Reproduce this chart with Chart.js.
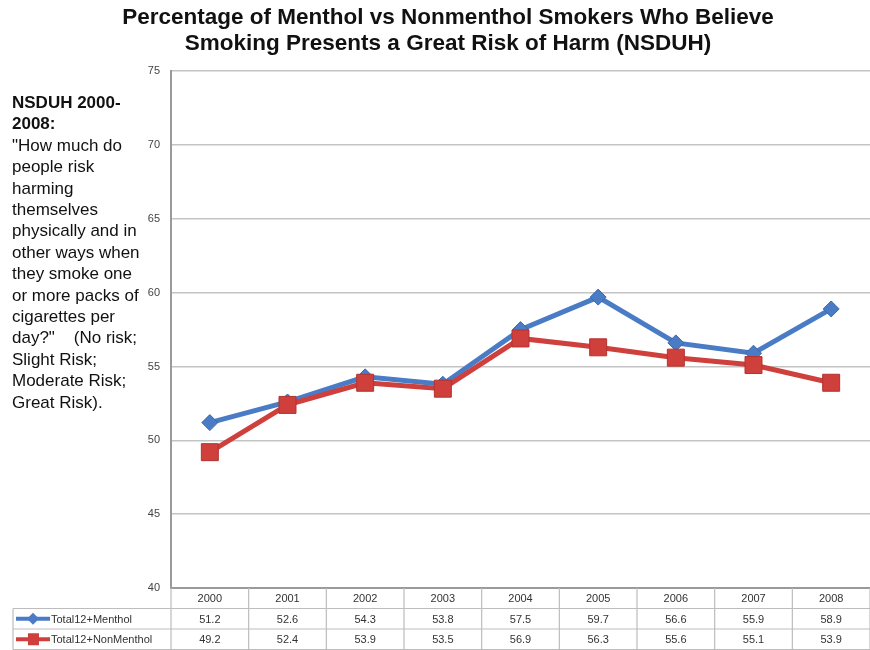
<!DOCTYPE html>
<html>
<head>
<meta charset="utf-8">
<script src="https://cdn.jsdelivr.net/npm/chart.js@4/dist/chart.umd.min.js"></script>
<style>
  html, body { margin: 0; padding: 0; background: #fff; }
  #wrap { position: relative; width: 870px; height: 650px; }
  #note {
    position: absolute; left: 12px; top: 92px;
    font: 17px "Liberation Sans", Arial, sans-serif;
    line-height: 21.4px; color: #111; white-space: nowrap;
  }
  #note b { font-weight: bold; }
</style>
</head>
<body>
<div id="wrap">
  <canvas id="chart" width="870" height="650"></canvas>
  <div id="note"><b>NSDUH 2000-<br>2008:</b><br>"How much do<br>people risk<br>harming<br>themselves<br>physically and in<br>other ways when<br>they smoke one<br>or more packs of<br>cigarettes per<br>day?"&nbsp;&nbsp;&nbsp; (No risk;<br>Slight Risk;<br>Moderate Risk;<br>Great Risk).</div>
</div>
<script>
// Survey years and the share (%) who see a great risk of harm
const years = ['2000', '2001', '2002', '2003', '2004', '2005', '2006', '2007', '2008'];
const menthol = [51.2, 52.6, 54.3, 53.8, 57.5, 59.7, 56.6, 55.9, 58.9];
const nonMenthol = [49.2, 52.4, 53.9, 53.5, 56.9, 56.3, 55.6, 55.1, 53.9];
const seriesNames = ['Total12+Menthol', 'Total12+NonMenthol'];
const yTicks = [40, 45, 50, 55, 60, 65, 70, 75];

const BLUE = '#4a7cc6';
const RED = '#cf3f3b';
const FONT = '"Liberation Sans", Arial, sans-serif';

// Data table under the plot: year header row plus one row per series
const dataTable = {
  id: 'dataTable',
  afterDraw(chart) {
    const { ctx, chartArea, scales } = chart;
    const x = scales.x;
    const top = chartArea.bottom;
    const rowH = 20.5;
    const left = chartArea.left;
    const right = chart.width;
    const catW = (chartArea.right - chartArea.left) / years.length;
    const legendLeft = 13;
    ctx.save();
    ctx.strokeStyle = '#bdbdbd';
    ctx.lineWidth = 1.2;
    // horizontal rules
    ctx.beginPath();
    ctx.moveTo(left, top + rowH); ctx.lineTo(right, top + rowH);
    ctx.moveTo(legendLeft, top + rowH); ctx.lineTo(left, top + rowH);
    ctx.moveTo(legendLeft, top + 2 * rowH); ctx.lineTo(right, top + 2 * rowH);
    ctx.moveTo(legendLeft, top + 3 * rowH); ctx.lineTo(right, top + 3 * rowH);
    // vertical rules
    for (let i = 0; i <= years.length; i++) {
      const xx = left + i * catW;
      ctx.moveTo(xx, top); ctx.lineTo(xx, top + 3 * rowH);
    }
    ctx.moveTo(legendLeft, top + rowH); ctx.lineTo(legendLeft, top + 3 * rowH);
    ctx.stroke();

    ctx.fillStyle = '#333';
    ctx.font = '11px ' + FONT;
    ctx.textAlign = 'center';
    ctx.textBaseline = 'middle';
    const rows = [menthol, nonMenthol];
    years.forEach((yr, i) => {
      const cx = x.getPixelForValue(i);
      ctx.fillText(yr, cx, top + rowH / 2 + 1);
      rows.forEach((vals, r) => {
        ctx.fillText(vals[i].toFixed(1), cx, top + rowH * (r + 1.5) + 1);
      });
    });

    // legend keys
    const colors = [BLUE, RED];
    seriesNames.forEach((name, r) => {
      const cy = top + rowH * (r + 1.5);
      ctx.strokeStyle = colors[r];
      ctx.lineWidth = 4;
      ctx.beginPath();
      ctx.moveTo(16, cy); ctx.lineTo(50, cy);
      ctx.stroke();
      ctx.fillStyle = colors[r];
      ctx.beginPath();
      if (r === 0) {
        ctx.moveTo(33, cy - 6); ctx.lineTo(39, cy); ctx.lineTo(33, cy + 6); ctx.lineTo(27, cy);
      } else {
        ctx.rect(28, cy - 6, 11, 12);
      }
      ctx.fill();
      ctx.fillStyle = '#333';
      ctx.textAlign = 'left';
      ctx.fillText(name, 51, cy + 1);
    });
    ctx.restore();
  }
};

new Chart(document.getElementById('chart'), {
  type: 'line',
  data: {
    labels: years,
    datasets: [
      {
        label: seriesNames[0],
        data: menthol,
        borderColor: BLUE,
        backgroundColor: BLUE,
        borderWidth: 5,
        pointStyle: 'rectRot',
        pointRadius: 8,
        pointBorderColor: '#3a68ad',
        pointBorderWidth: 1,
        tension: 0,
        order: 2
      },
      {
        label: seriesNames[1],
        data: nonMenthol,
        borderColor: RED,
        backgroundColor: RED,
        borderWidth: 5,
        pointStyle: 'rect',
        pointRadius: 12,
        pointBorderColor: '#b33330',
        pointBorderWidth: 1,
        tension: 0,
        order: 1
      }
    ]
  },
  options: {
    responsive: false,
    animation: false,
    layout: { autoPadding: false, padding: { left: 26, right: 0, top: 0, bottom: 62 } },
    plugins: {
      legend: { display: false },
      tooltip: { enabled: false },
      title: {
        display: true,
        text: ['Percentage of Menthol vs Nonmenthol Smokers Who Believe',
               'Smoking Presents a Great Risk of Harm (NSDUH)'],
        color: '#111',
        font: { family: FONT, size: 22.5, weight: 'bold', lineHeight: 1.16 },
        padding: { top: 5, bottom: 14 }
      }
    },
    scales: {
      x: {
        offset: true,
        grid: { display: false, drawTicks: false },
        border: { display: true, color: '#9a9a9a', width: 2 },
        ticks: { display: false }
      },
      y: {
        min: 40,
        max: 75,
        afterBuildTicks: (s) => { s.ticks = yTicks.map(v => ({ value: v })); },
        afterFit: (s) => { s.width = 145; },
        grid: { color: '#c4c4c4', lineWidth: 1.5, drawTicks: false },
        border: { display: true, color: '#9a9a9a', width: 2 },
        ticks: { color: '#444', font: { family: FONT, size: 11 }, padding: 11 }
      }
    }
  },
  plugins: [dataTable]
});
</script>
</body>
</html>
